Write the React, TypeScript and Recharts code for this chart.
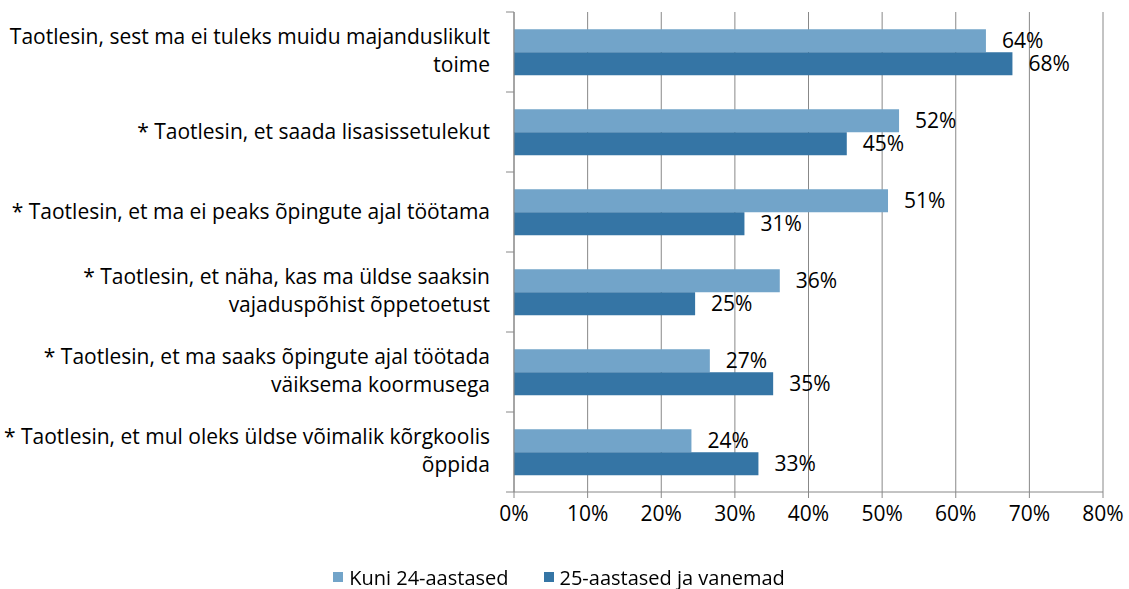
import React from "react";
import { BarChart, Bar, XAxis, YAxis, CartesianGrid, Legend, LabelList } from "recharts";

const categories = [
    "Taotlesin, sest ma ei tuleks muidu majanduslikult\ntoime",
    "* Taotlesin, et saada lisasissetulekut",
    "* Taotlesin, et ma ei peaks õpingute ajal töötama",
    "* Taotlesin, et näha, kas ma üldse saaksin\nvajaduspõhist õppetoetust",
    "* Taotlesin, et ma saaks õpingute ajal töötada\nväiksema koormusega",
    "* Taotlesin, et mul oleks üldse võimalik kõrgkoolis\nõppida",
];
const kuni24 = [64.1, 52.3, 50.8, 36.1, 26.6, 24.1];
const vanemad = [67.7, 45.2, 31.3, 24.6, 35.2, 33.2];
const xTicks = [0, 10, 20, 30, 40, 50, 60, 70, 80];

const seriesNames = ["Kuni 24-aastased", "25-aastased ja vanemad"];
const colors = ["#72A4C9", "#3575A5"];

const data = categories.map((c, i) => ({ name: c, a: kuni24[i], b: vanemad[i] }));

const FONT = "'Open Sans', sans-serif";
const FS = 21;
const AXIS = "#888888";

function CategoryTick(props: any) {
    const { x, y, payload, index } = props;
    const lines = String(payload.value).split("\n");
    const half = payload.offset || 40;
    const lh = 28;
    const y0 = y - 1 - ((lines.length - 1) * lh) / 2 - (lines.length > 1 ? 1 : 0);
    return (
        <g>
            <line x1={x + 16} x2={x + 24} y1={y - half} y2={y - half} stroke={AXIS} />
            {index === categories.length - 1 && (
                <line x1={x + 16} x2={x + 24} y1={y + half} y2={y + half} stroke={AXIS} />
            )}
            <text x={x} y={y0} textAnchor="end" fontSize={FS} fill="#000" fontFamily={FONT}>
                {lines.map((l, i) => (
                    <tspan key={i} x={x} y={y0 + i * lh} dominantBaseline="central">{l}</tspan>
                ))}
            </text>
        </g>
    );
}

function LegendBox() {
    return (
        <div style={{ height: 40, paddingTop: 16, boxSizing: "border-box", display: "flex", justifyContent: "center", fontFamily: FONT, fontSize: 20, color: "#000" }}>
            <div style={{ display: "flex", alignItems: "center", gap: 35, marginLeft: 15, height: 24 }}>
                {seriesNames.map((n, i) => (
                    <div key={n} style={{ display: "flex", alignItems: "center" }}>
                        <span style={{ width: 10, height: 10, background: colors[i], marginRight: 6, display: "inline-block" }} />
                        <span>{n}</span>
                    </div>
                ))}
            </div>
        </div>
    );
}

export default function App() {
    return (
        <div style={{ position: "fixed", left: 0, top: 0, background: "#fff" }}>
            <BarChart
                width={1129}
                height={589}
                data={data}
                layout="vertical"
                margin={{ top: 12, right: 26, bottom: 0, left: 0 }}
                barCategoryGap="21.5%"
                barGap={0}
            >
                <CartesianGrid horizontal={false} stroke={AXIS} />
                <XAxis
                    type="number"
                    domain={[0, 80]}
                    ticks={xTicks}
                    tickFormatter={(v: number) => v + "%"}
                    axisLine={{ stroke: AXIS }}
                    tickLine={{ stroke: AXIS }}
                    tickSize={6}
                    tickMargin={8}
                    height={57}
                    tick={{ fill: "#000", fontSize: FS, fontFamily: FONT }}
                />
                <YAxis
                    type="category"
                    dataKey="name"
                    width={514}
                    axisLine={{ stroke: AXIS }}
                    tickLine={false}
                    tickSize={8}
                    tickMargin={16}
                    interval={0}
                    tick={<CategoryTick />}
                />
                <Legend verticalAlign="bottom" content={() => <LegendBox />} />
                <Bar dataKey="a" name={seriesNames[0]} fill={colors[0]} isAnimationActive={false}>
                    <LabelList dataKey="a" position="right" offset={16} fontSize={FS} fill="#000" fontFamily={FONT}
                        formatter={(v: any) => Math.round(Number(v)) + "%"} />
                </Bar>
                <Bar dataKey="b" name={seriesNames[1]} fill={colors[1]} isAnimationActive={false}>
                    <LabelList dataKey="b" position="right" offset={16} fontSize={FS} fill="#000" fontFamily={FONT}
                        formatter={(v: any) => Math.round(Number(v)) + "%"} />
                </Bar>
            </BarChart>
        </div>
    );
}
